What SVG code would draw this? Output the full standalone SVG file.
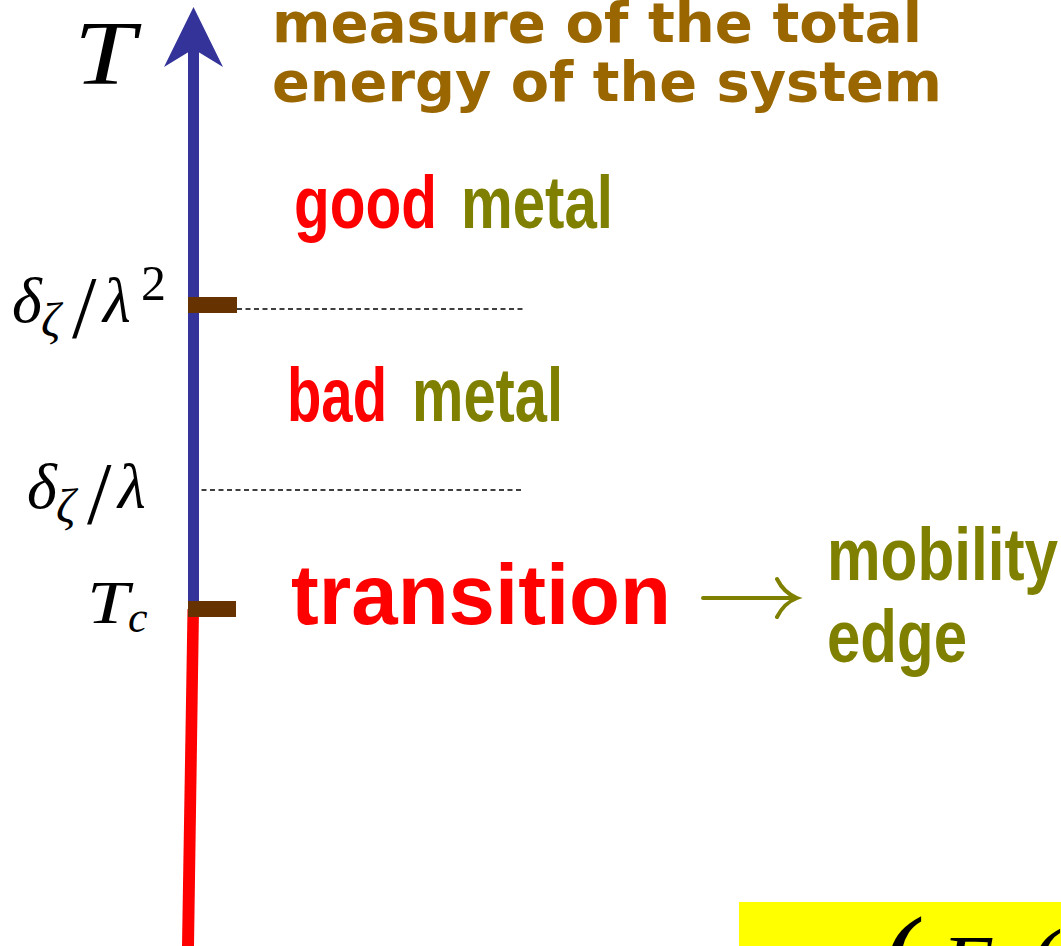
<svg xmlns="http://www.w3.org/2000/svg" width="1061" height="946" viewBox="0 0 1061 946">
<style>
.math{font-family:"Liberation Serif","Times New Roman",serif;font-style:italic;fill:#000}
.up{font-family:"Liberation Serif","Times New Roman",serif;fill:#000}
.comic{font-family:"Comic Sans MS","DejaVu Sans",sans-serif;font-weight:bold;fill:#996600}
.ar{font-family:"Liberation Sans",Arial,sans-serif;font-weight:bold}
.red{fill:#ff0000}
.olive{fill:#808000}
.dash{stroke:#000;stroke-width:1.6;stroke-dasharray:5 3.5;fill:none}
.tick{fill:#663300}
</style>
<rect width="1061" height="946" fill="#fff"/>
<g id="connectors">
  <line class="dash" x1="237" y1="309" x2="524" y2="309"/>
  <line class="dash" x1="193" y1="490" x2="524" y2="490"/>
  <g id="axis">
    <rect x="188" y="45" width="11" height="564" fill="#333399"/>
    <polygon points="193.5,7 164,67 193.5,49 223,67" fill="#333399"/>
    <polygon points="187.5,609 199,609 194,946 182,946" fill="#ff0000"/>
  </g>
  <path d="M703,598 H795 M777,579 Q784,593 797,598 Q784,603 777,617" stroke="#808000" stroke-width="4" stroke-linecap="round" fill="none"/>
</g>
<g id="tick-lambda2"><rect class="tick" x="188" y="297" width="49" height="16"/></g>
<g id="tick-tc"><rect class="tick" x="188" y="601" width="48" height="16"/></g>
<g id="label-T"><text class="math" x="74" y="84" font-size="92" textLength="61" lengthAdjust="spacingAndGlyphs">T</text></g>
<g id="caption">
  <text class="comic" x="272" y="42" font-size="55" textLength="650" lengthAdjust="spacingAndGlyphs">measure of the total</text>
  <text class="comic" x="272" y="101" font-size="55" textLength="670" lengthAdjust="spacingAndGlyphs">energy of the system</text>
</g>
<g id="label-lambda2">
  <text class="math" x="12" y="322" font-size="64">δ</text>
  <text class="math" x="41" y="336" font-size="48">ζ</text>
  <text class="up" x="72" y="337" font-size="88">/</text>
  <text class="math" x="103" y="322" font-size="64">λ</text>
  <text class="up" x="141" y="300" font-size="50">2</text>
</g>
<g id="label-lambda">
  <text class="math" x="27" y="508" font-size="64">δ</text>
  <text class="math" x="56" y="522" font-size="48">ζ</text>
  <text class="up" x="87" y="523" font-size="88">/</text>
  <text class="math" x="118" y="508" font-size="64">λ</text>
</g>
<g id="label-Tc">
  <text class="math" x="87" y="623" font-size="62" textLength="42" lengthAdjust="spacingAndGlyphs">T</text>
  <text class="math" x="128" y="632" font-size="44">c</text>
</g>
<g id="good-metal">
  <text class="ar red" x="294" y="228" font-size="74" textLength="143" lengthAdjust="spacingAndGlyphs">good</text>
  <text class="ar olive" x="461" y="228" font-size="74" textLength="152" lengthAdjust="spacingAndGlyphs">metal</text>
</g>
<g id="bad-metal">
  <text class="ar red" x="287" y="421" font-size="76" textLength="100" lengthAdjust="spacingAndGlyphs">bad</text>
  <text class="ar olive" x="412" y="421" font-size="76" textLength="151" lengthAdjust="spacingAndGlyphs">metal</text>
</g>
<g id="transition">
  <text class="ar red" x="291" y="624" font-size="85" textLength="380" lengthAdjust="spacingAndGlyphs">transition</text>
</g>
<g id="mobility-edge">
  <text class="ar olive" x="827" y="580" font-size="75" textLength="231" lengthAdjust="spacingAndGlyphs">mobility</text>
  <text class="ar olive" x="827" y="662" font-size="75" textLength="140" lengthAdjust="spacingAndGlyphs">edge</text>
</g>
<g id="formula">
  <rect x="739" y="902" width="322" height="44" fill="#ffff00"/>
  <text class="up" x="882" y="1006" font-size="130">(</text>
  <text class="math" x="942" y="994" font-size="85">E</text>
  <text class="up" x="1030" y="998" font-size="100">(</text>
</g>
</svg>
